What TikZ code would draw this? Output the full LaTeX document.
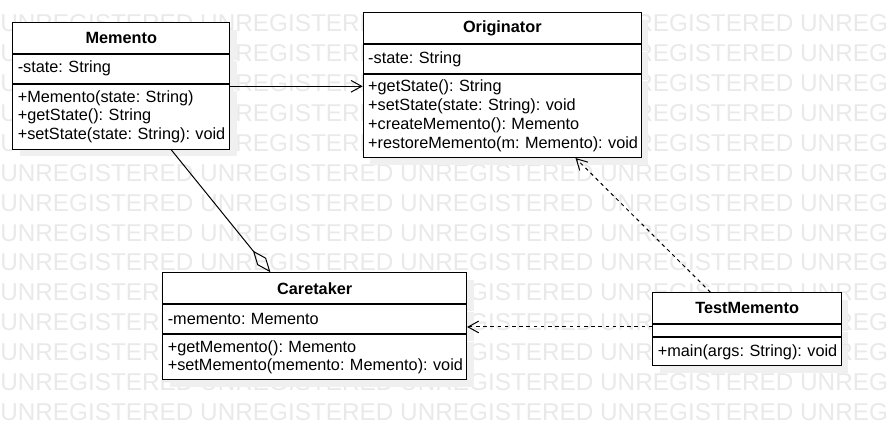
\documentclass[tikz,border=0pt]{standalone}
\usepackage{fontspec}
\setmainfont{Liberation Sans}
\usetikzlibrary{arrows.meta,shadows}
\definecolor{wmc}{RGB}{233,233,233}
\definecolor{shadowc}{RGB}{240,240,240}
\newcommand\rowtxt[1]{\mbox{#1}}
\frenchspacing
\begin{document}
\frenchspacing
\begin{tikzpicture}[x=0.75pt,y=-0.75pt,
  wm/.style={inner sep=0pt, anchor=base west, text=wmc, font=\fontsize{18.24}{20}\selectfont},
  box/.style={draw=black, line width=0.75pt, fill=white, anchor=north west,
    inner xsep=3.75pt, inner ysep=0pt, font=\fontsize{12.2}{14.1}\selectfont,
    drop shadow={shadow xshift=5.25pt, shadow yshift=-5.25pt, fill=shadowc, opacity=1}},
  head/.style={box, align=center, font=\fontsize{12.2}{14.1}\selectfont\bfseries},
  body/.style={box, align=left},
  assoc/.style={line width=0.75pt, -{Straight Barb[length=8pt,width=8.75pt]}},
  dep/.style={assoc, dash pattern=on 2.7pt off 2.7pt},
  aggr/.style={line width=0.75pt, -{Diamond[open,length=21pt,width=8.5pt]}}
]
\useasboundingbox (0,0) rectangle (890,428);
% watermark
\begin{scope}
\clip (0,0) rectangle (890,428);
\foreach \k in {0,...,13}{
  \node[wm] (wm\k) at (0,{31.7+29.9*\k}) {UNREGISTERED UNREGISTERED UNREGISTERED UNREGISTERED UNREGISTERED};
}
\end{scope}

% Memento
\node[head, text width=155.25pt, minimum height=22.8pt] (memento-h) at (12.3,22.3) {Memento};
\node[body, text width=155.25pt, minimum height=21.75pt] (memento-a) at (memento-h.south west) {\rowtxt{-state: String}};
\node[body, text width=155.25pt, minimum height=48.75pt] (memento-m) at (memento-a.south west)
  {\rowtxt{+Memento(state: String)}\\\rowtxt{+getState(): String}\\\rowtxt{+setState(state: String): void}};

% Originator
\node[head, text width=201.2pt, minimum height=23.25pt] (originator-h) at (362.7,12.3) {Originator};
\node[body, text width=201.2pt, minimum height=21.3pt] (originator-a) at (originator-h.south west) {\rowtxt{-state: String}};
\node[body, text width=201.2pt, minimum height=62.5pt] (originator-m) at (originator-a.south west)
  {\rowtxt{+getState(): String}\\\rowtxt{+setState(state: String): void}\\\rowtxt{+createMemento(): Memento}\\\rowtxt{+restoreMemento(m: Memento): void}};

% Caretaker
\node[head, text width=220.3pt, minimum height=23.25pt] (caretaker-h) at (162.3,272.3) {Caretaker};
\node[body, text width=220.3pt, minimum height=21.75pt] (caretaker-a) at (caretaker-h.south west) {\rowtxt{-memento: Memento}};
\node[body, text width=220.3pt, minimum height=33.75pt] (caretaker-m) at (caretaker-a.south west)
  {\rowtxt{+getMemento(): Memento}\\\rowtxt{+setMemento(memento: Memento): void}};

% TestMemento
\node[head, text width=134pt, minimum height=23.25pt] (testm-h) at (652.3,292.3) {TestMemento};
\node[body, text width=134pt, minimum height=9pt] (testm-a) at (testm-h.south west) {};
\node[body, text width=134pt, minimum height=21pt] (testm-m) at (testm-a.south west) {\rowtxt{+main(args: String): void}};

% connectors
\coordinate (m2o) at ([yshift=-1.95pt]memento-m.north east);
\draw[assoc] (m2o) -- (m2o -| originator-m.west);

\coordinate (agg-s) at ([xshift=37.4pt]memento-m.south);
\coordinate (agg-e) at ([xshift=-33.15pt]caretaker-h.north);
\draw[aggr] (agg-s) -- (agg-e);

\coordinate (t2c) at ([yshift=-2pt]testm-a.north west);
\draw[dep] (t2c) -- (t2c -| caretaker-a.east);

\coordinate (t2o-s) at ([xshift=-27.5pt]testm-h.north);
\coordinate (t2o-e) at ([xshift=54.9pt]originator-m.south);
\draw[dep] (t2o-s) -- (t2o-e);
\end{tikzpicture}
\end{document}
